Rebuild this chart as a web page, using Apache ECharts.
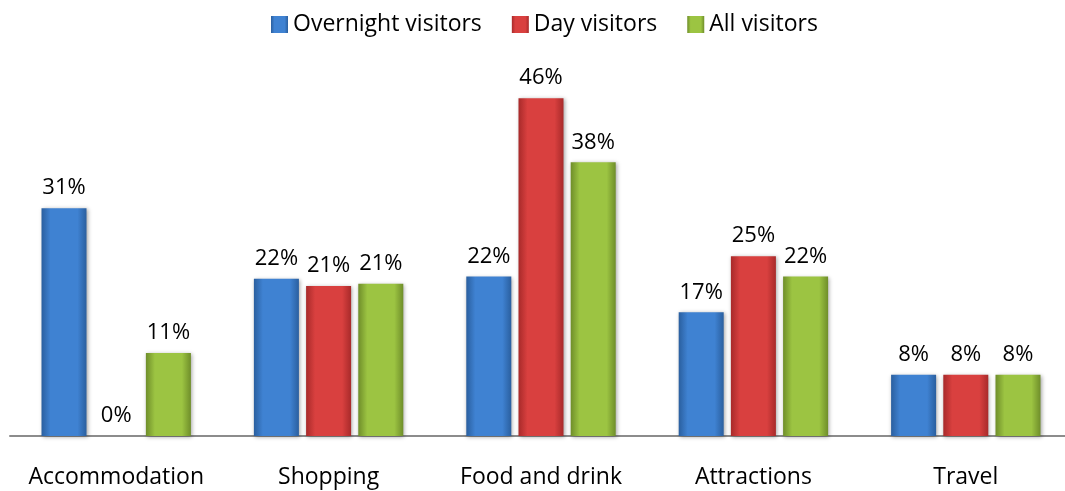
<!DOCTYPE html>
<html>
<head>
<meta charset="utf-8">
<script src="https://cdn.jsdelivr.net/npm/echarts@6/dist/echarts.min.js"></script>
<style>
  html, body { margin: 0; padding: 0; background: #fff; }
  #chart { width: 1065px; height: 491px; }
</style>
</head>
<body>
<div id="chart"></div>
<script>
  const categories = ['Accommodation', 'Shopping', 'Food and drink', 'Attractions', 'Travel'];
  const overnight = [31.3, 21.6, 21.9, 17.0, 8.4];
  const day = [0, 20.6, 46.4, 24.7, 8.4];
  const all = [11.4, 20.9, 37.6, 21.9, 8.4];

  const font = '"Open Sans", "Noto Sans", sans-serif';

  // bevel-ish look: darker edges, lighter middle
  function grad(edge, mid) {
    return new echarts.graphic.LinearGradient(0, 0, 1, 0, [
      { offset: 0, color: edge },
      { offset: 0.2, color: mid },
      { offset: 0.8, color: mid },
      { offset: 1, color: edge }
    ]);
  }

  function series(name, data, edge, mid) {
    return {
      name: name,
      type: 'bar',
      data: data,
      barWidth: 45,
      barGap: '16%',
      itemStyle: {
        color: grad(edge, mid),
        shadowColor: 'rgba(0,0,0,0.35)',
        shadowBlur: 4,
        shadowOffsetX: 1,
        shadowOffsetY: 1
      },
      label: {
        show: true,
        position: 'top',
        distance: 9,
        color: '#000',
        fontFamily: font,
        fontSize: 22,
        formatter: function (p) { return Math.round(p.value) + '%'; }
      }
    };
  }

  const chart = echarts.init(document.getElementById('chart'));
  const option = {
    animation: false,
    legend: {
      top: 8,
      left: 266,
      itemWidth: 17,
      itemHeight: 17,
      itemGap: 30,
      itemTextGap: 7,
      icon: 'rect',
      textStyle: { fontFamily: font, fontSize: 23, color: '#000' },
      data: ['Overnight visitors', 'Day visitors', 'All visitors']
    },
    grid: { left: 10, width: 1062, top: 72, bottom: 55, outerBoundsMode: 'none' },
    xAxis: {
      type: 'category',
      data: categories,
      axisLine: { lineStyle: { color: '#8c8c8c', width: 2 } },
      axisTick: { show: false },
      axisLabel: { interval: 0, margin: 30, color: '#000', fontFamily: font, fontSize: 23 }
    },
    yAxis: {
      type: 'value',
      min: 0,
      max: 50,
      show: false,
      splitLine: { show: false }
    },
    series: [
      series('Overnight visitors', overnight, '#2a5f9f', '#3f82d2'),
      series('Day visitors', day, '#a82a2a', '#d9403f'),
      series('All visitors', all, '#6f8e2a', '#9cc442')
    ]
  };
  chart.setOption(option);
  window.addEventListener('resize', function () { chart.resize(); });
</script>
</body>
</html>
